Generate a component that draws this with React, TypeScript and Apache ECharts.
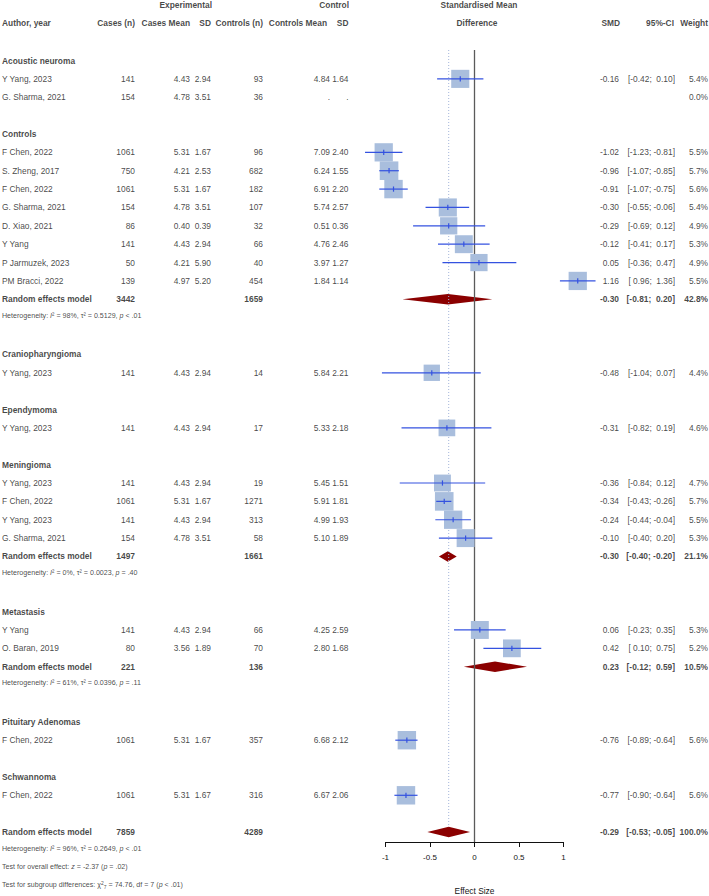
import React, { useEffect, useRef } from "react";
import * as echarts from "echarts";

// ---------- data ----------
const subgroups = [
  "Acoustic neuroma",
  "Controls",
  "Craniopharyngioma",
  "Ependymoma",
  "Meningioma",
  "Metastasis",
  "Pituitary Adenomas",
  "Schwannoma",
];

const studyGroup = [0, 0, 1, 1, 1, 1, 1, 1, 1, 1, 2, 3, 4, 4, 4, 4, 5, 5, 6, 7];
const authors = [
  "Y Yang, 2023", "G. Sharma, 2021",
  "F Chen, 2022", "S. Zheng, 2017", "F Chen, 2022", "G. Sharma, 2021", "D. Xiao, 2021", "Y Yang", "P Jarmuzek, 2023", "PM Bracci, 2022",
  "Y Yang, 2023",
  "Y Yang, 2023",
  "Y Yang, 2023", "F Chen, 2022", "Y Yang, 2023", "G. Sharma, 2021",
  "Y Yang", "O. Baran, 2019",
  "F Chen, 2022",
  "F Chen, 2022",
];
const casesN = [141, 154, 1061, 750, 1061, 154, 86, 141, 50, 139, 141, 141, 141, 1061, 141, 154, 141, 80, 1061, 1061];
const casesMean = [4.43, 4.78, 5.31, 4.21, 5.31, 4.78, 0.40, 4.43, 4.21, 4.97, 4.43, 4.43, 4.43, 5.31, 4.43, 4.78, 4.43, 3.56, 5.31, 5.31];
const casesSD = [2.94, 3.51, 1.67, 2.53, 1.67, 3.51, 0.39, 2.94, 5.90, 5.20, 2.94, 2.94, 2.94, 1.67, 2.94, 3.51, 2.94, 1.89, 1.67, 1.67];
const controlsN = [93, 36, 96, 682, 182, 107, 32, 66, 40, 454, 14, 17, 19, 1271, 313, 58, 66, 70, 357, 316];
const controlsMean: (number | null)[] = [4.84, null, 7.09, 6.24, 6.91, 5.74, 0.51, 4.76, 3.97, 1.84, 5.84, 5.33, 5.45, 5.91, 4.99, 5.10, 4.25, 2.80, 6.68, 6.67];
const controlsSD: (number | null)[] = [1.64, null, 2.40, 1.55, 2.20, 2.57, 0.36, 2.46, 1.27, 1.14, 2.21, 2.18, 1.51, 1.81, 1.93, 1.89, 2.59, 1.68, 2.12, 2.06];
const smd: (number | null)[] = [-0.16, null, -1.02, -0.96, -0.91, -0.30, -0.29, -0.12, 0.05, 1.16, -0.48, -0.31, -0.36, -0.34, -0.24, -0.10, 0.06, 0.42, -0.76, -0.77];
const ciLow: (number | null)[] = [-0.42, null, -1.23, -1.07, -1.07, -0.55, -0.69, -0.41, -0.36, 0.96, -1.04, -0.82, -0.84, -0.43, -0.44, -0.40, -0.23, 0.10, -0.89, -0.90];
const ciHigh: (number | null)[] = [0.10, null, -0.81, -0.85, -0.75, -0.06, 0.12, 0.17, 0.47, 1.36, 0.07, 0.19, 0.12, -0.26, -0.04, 0.20, 0.35, 0.75, -0.64, -0.64];
const weights = [5.4, 0.0, 5.5, 5.7, 5.6, 5.4, 4.9, 5.3, 4.9, 5.5, 4.4, 4.6, 4.7, 5.7, 5.5, 5.3, 5.3, 5.2, 5.6, 5.6];

// pooled random-effects results per subgroup (null where no pooling is shown)
const groupCasesN = [null, 3442, null, null, 1497, 221, null, null];
const groupControlsN = [null, 1659, null, null, 1661, 136, null, null];
const groupSmd = [null, -0.30, null, null, -0.30, 0.23, null, null];
const groupLow = [null, -0.81, null, null, -0.40, -0.12, null, null];
const groupHigh = [null, 0.20, null, null, -0.20, 0.59, null, null];
const groupWeight = [null, 42.8, null, null, 21.1, 10.5, null, null];
const groupI2 = [null, "98%", null, null, "0%", "61%", null, null];
const groupTau2 = [null, "0.5129", null, null, "0.0023", "0.0396", null, null];
const groupP = [null, "< .01", null, null, "= .40", "= .11", null, null];

// overall random-effects model
const overallCasesN = 7859;
const overallControlsN = 4289;
const overallSmd = -0.29;
const overallLow = -0.53;
const overallHigh = -0.05;
const overallWeight = 100.0;
const overallI2 = "96%";
const overallTau2 = "0.2649";
const overallP = "< .01";
const overallZ = "-2.37";
const overallZP = "= .02";
const subgroupChi2 = "74.76";
const subgroupDf = 7;
const subgroupP = "< .01";

const xTicks = { min: -1, max: 1, interval: 0.5 };

const headerTop = ["Experimental", "Control", "Standardised Mean"];
const headerBottom = ["Author, year", "Cases (n)", "Cases Mean", "SD", "Controls (n)", "Controls Mean", "SD", "Difference", "SMD", "95%-CI", "Weight"];

// ---------- layout ----------
const W = 709;
const H = 896;
const ROW_H = 18.37;
const ROW0_Y = 60.5;
const FONT = "'Liberation Sans', Arial, Helvetica, sans-serif";
const TEXT = "#151515";
const FS = 8.4;
const FS_SMALL = 7.1;

const COL = {
  author: 2,
  casesN: 135,
  casesMean: 190,
  casesSD: 211,
  ctrlN: 263,
  ctrlMean: 330,
  ctrlSD: 348.5,
  smd: 619,
  ci: 675,
  weight: 708,
};
const headerTopX = [212, 349, 479];
const headerTopAlign = ["r", "r", "c"];
const headerBottomX = [2, 135, 190, 211, 263, 327, 348.5, 477, 620, 674, 708];
const headerBottomAlign = ["l", "r", "r", "r", "r", "r", "r", "c", "r", "r", "r"];

const PLOT_LEFT = 385.5;
const PLOT_WIDTH = 178;
const PLOT_TOP = 50;
const PLOT_BOTTOM = 842;
const BOX_MAX = 18.6;

type Cell = { x: number; row: number; text: string; align: string; bold?: boolean; size?: number };

const f2 = (v: number) => v.toFixed(2);
const pad = (v: number) => (v < 0 ? f2(v) : " " + f2(v));
const ciText = (lo: number, hi: number) => `[${pad(lo)}; ${pad(hi)}]`;
const hetText = (i2: string, tau2: string, p: string) =>
  `Heterogeneity: {it|I}² = ${i2}, τ² = ${tau2}, {it|p} ${p}`;

function buildLayout() {
  const cells: Cell[] = [];
  const studies: number[][] = [];
  const diamonds: number[][] = [];

  headerTop.forEach((t, i) =>
    cells.push({ x: headerTopX[i], row: -3, text: t, align: headerTopAlign[i], bold: true })
  );
  headerBottom.forEach((t, i) =>
    cells.push({ x: headerBottomX[i], row: -2.06, text: t, align: headerBottomAlign[i], bold: true })
  );

  let r = 0;
  subgroups.forEach((name, g) => {
    cells.push({ x: COL.author, row: r, text: name, align: "l", bold: true });
    r++;
    studyGroup.forEach((sg, i) => {
      if (sg !== g) return;
      cells.push({ x: COL.author, row: r, text: authors[i], align: "l" });
      cells.push({ x: COL.casesN, row: r, text: String(casesN[i]), align: "r" });
      cells.push({ x: COL.casesMean, row: r, text: f2(casesMean[i]), align: "r" });
      cells.push({ x: COL.casesSD, row: r, text: f2(casesSD[i]), align: "r" });
      cells.push({ x: COL.ctrlN, row: r, text: String(controlsN[i]), align: "r" });
      const cm = controlsMean[i];
      const cs = controlsSD[i];
      cells.push({ x: COL.ctrlMean, row: r, text: cm == null ? "." : f2(cm), align: "r" });
      cells.push({ x: COL.ctrlSD, row: r, text: cs == null ? "." : f2(cs), align: "r" });
      const s = smd[i];
      const lo = ciLow[i];
      const hi = ciHigh[i];
      if (s != null && lo != null && hi != null) {
        cells.push({ x: COL.smd, row: r, text: f2(s), align: "r" });
        cells.push({ x: COL.ci, row: r, text: ciText(lo, hi), align: "r" });
        studies.push([s, r, lo, hi, weights[i]]);
      }
      cells.push({ x: COL.weight, row: r, text: weights[i].toFixed(1) + "%", align: "r" });
      r++;
    });
    const gs = groupSmd[g];
    if (gs != null) {
      const lo = groupLow[g] as number;
      const hi = groupHigh[g] as number;
      cells.push({ x: COL.author, row: r, text: "Random effects model", align: "l", bold: true });
      cells.push({ x: COL.casesN, row: r, text: String(groupCasesN[g]), align: "r", bold: true });
      cells.push({ x: COL.ctrlN, row: r, text: String(groupControlsN[g]), align: "r", bold: true });
      cells.push({ x: COL.smd, row: r, text: f2(gs), align: "r", bold: true });
      cells.push({ x: COL.ci, row: r, text: ciText(lo, hi), align: "r", bold: true });
      cells.push({ x: COL.weight, row: r, text: (groupWeight[g] as number).toFixed(1) + "%", align: "r", bold: true });
      diamonds.push([gs, r, lo, hi]);
      r++;
      cells.push({
        x: COL.author, row: r - 0.1, align: "l", size: FS_SMALL,
        text: hetText(groupI2[g] as string, groupTau2[g] as string, groupP[g] as string),
      });
      r++;
    }
    r++;
  });

  const overallRow = r;
  cells.push({ x: COL.author, row: r, text: "Random effects model", align: "l", bold: true });
  cells.push({ x: COL.casesN, row: r, text: String(overallCasesN), align: "r", bold: true });
  cells.push({ x: COL.ctrlN, row: r, text: String(overallControlsN), align: "r", bold: true });
  cells.push({ x: COL.smd, row: r, text: f2(overallSmd), align: "r", bold: true });
  cells.push({ x: COL.ci, row: r, text: ciText(overallLow, overallHigh), align: "r", bold: true });
  cells.push({ x: COL.weight, row: r, text: overallWeight.toFixed(1) + "%", align: "r", bold: true });
  diamonds.push([overallSmd, r, overallLow, overallHigh]);
  r++;
  cells.push({ x: COL.author, row: r - 0.1, align: "l", size: FS_SMALL, text: hetText(overallI2, overallTau2, overallP) });
  r++;
  cells.push({
    x: COL.author, row: r - 0.1, align: "l", size: FS_SMALL,
    text: `Test for overall effect: {it|z} = ${overallZ} ({it|p} ${overallZP})`,
  });
  r++;
  cells.push({
    x: COL.author, row: r - 0.1, align: "l", size: FS_SMALL,
    text: `Test for subgroup differences: χ{sup|2}{sub|${subgroupDf}} = ${subgroupChi2}, df = ${subgroupDf} ({it|p} ${subgroupP})`,
  });

  return { cells, studies, diamonds, overallRow };
}

export default function App() {
  const ref = useRef<HTMLDivElement>(null);

  useEffect(() => {
    if (!ref.current) return;
    const chart = echarts.init(ref.current, undefined, { renderer: "svg" });
    const { cells, studies, diamonds, overallRow } = buildLayout();

    const tableYMin = -ROW0_Y / ROW_H;
    const tableYMax = (H - ROW0_Y) / ROW_H;
    const plotYMin = (PLOT_TOP - ROW0_Y) / ROW_H;
    const plotYMax = (PLOT_BOTTOM - ROW0_Y) / ROW_H;
    const maxW = Math.max(...weights);

    const option: any = {
      animation: false,
      backgroundColor: "#ffffff",
      textStyle: { fontFamily: FONT },
      grid: [
        // table area
        { left: 0, top: 0, width: W, height: H },
        // forest marks
        { left: PLOT_LEFT, top: PLOT_TOP, width: PLOT_WIDTH, height: PLOT_BOTTOM - PLOT_TOP },
        // effect-size axis
        { left: PLOT_LEFT, top: PLOT_BOTTOM - 1, width: PLOT_WIDTH, height: 1 },
      ],
      xAxis: [
        { gridIndex: 0, type: "value", min: 0, max: W, show: false },
        {
          gridIndex: 1,
          type: "value",
          min: xTicks.min,
          max: xTicks.max,
          interval: xTicks.interval,
          show: false,
        },
        {
          gridIndex: 2,
          type: "value",
          position: "bottom",
          min: xTicks.min,
          max: xTicks.max,
          interval: xTicks.interval,
          splitLine: { show: false },
          axisLine: { show: true, onZero: false, lineStyle: { color: "#111", width: 1 } },
          axisTick: { show: true, length: 5, lineStyle: { color: "#111", width: 1 } },
          axisLabel: { color: TEXT, fontSize: 8, fontFamily: FONT, margin: 11 },
          name: "Effect Size",
          nameLocation: "middle",
          nameGap: 45,
          nameTextStyle: { color: TEXT, fontSize: FS, fontFamily: FONT },
        },
      ],
      yAxis: [
        { gridIndex: 0, type: "value", min: tableYMin, max: tableYMax, inverse: true, show: false },
        { gridIndex: 1, type: "value", min: plotYMin, max: plotYMax, inverse: true, show: false },
        { gridIndex: 2, type: "value", min: 0, max: 1, show: false },
      ],
      series: [
        {
          // table text
          type: "scatter",
          xAxisIndex: 0,
          yAxisIndex: 0,
          symbolSize: 0,
          silent: true,
          itemStyle: { color: "rgba(0,0,0,0)" },
          label: {
            show: true,
            color: TEXT,
            fontFamily: FONT,
            fontSize: FS,
            distance: 0,
            formatter: (p: any) => p.data.text,
            rich: {
              it: { fontStyle: "italic", fontSize: FS_SMALL, fontFamily: FONT, color: TEXT },
              sup: { fontSize: 5, fontFamily: FONT, color: TEXT, padding: [0, 0, 4, 0] },
              sub: { fontSize: 5, fontFamily: FONT, color: TEXT, padding: [4, 0, 0, 0] },
            },
          },
          data: cells.map((c) => ({
            value: [c.x, c.row],
            text: c.text,
            label: {
              position: c.align === "r" ? "left" : c.align === "l" ? "right" : "inside",
              align: c.align === "r" ? "right" : c.align === "l" ? "left" : "center",
              fontWeight: c.bold ? "bold" : "normal",
              fontSize: c.size ?? FS,
            },
          })),
          z: 5,
        },
        {
          // no-effect line
          type: "line",
          xAxisIndex: 1,
          yAxisIndex: 1,
          symbol: "none",
          silent: true,
          data: [[0, plotYMin], [0, plotYMax]],
          lineStyle: { color: "#5a5a5a", width: 1.3 },
          z: 2,
        },
        {
          // overall effect reference line
          type: "line",
          xAxisIndex: 1,
          yAxisIndex: 1,
          symbol: "none",
          silent: true,
          data: [[overallSmd, plotYMin], [overallSmd, overallRow - 0.27]],
          lineStyle: { color: "#a4b6da", width: 1, type: [1, 2] },
          z: 2,
        },
        {
          // pooled estimates
          type: "custom",
          xAxisIndex: 1,
          yAxisIndex: 1,
          clip: false,
          silent: true,
          data: diamonds,
          renderItem: (_p: any, api: any) => {
            const y = api.coord([api.value(0), api.value(1)]);
            const l = api.coord([api.value(2), api.value(1)]);
            const h = api.coord([api.value(3), api.value(1)]);
            return {
              type: "polygon",
              shape: {
                points: [
                  [l[0], y[1]],
                  [y[0], y[1] - 5.2],
                  [h[0], y[1]],
                  [y[0], y[1] + 5.2],
                ],
              },
              style: { fill: "#8b0000" },
            };
          },
          z: 1,
        },
        {
          // individual studies: box + confidence interval
          type: "custom",
          xAxisIndex: 1,
          yAxisIndex: 1,
          clip: false,
          silent: true,
          data: studies,
          renderItem: (_p: any, api: any) => {
            const row = api.value(1);
            const c = api.coord([api.value(0), row]);
            const l = api.coord([api.value(2), row]);
            const h = api.coord([api.value(3), row]);
            const side = BOX_MAX * Math.sqrt(api.value(4) / maxW);
            return {
              type: "group",
              children: [
                {
                  type: "rect",
                  shape: { x: c[0] - side / 2, y: c[1] - side / 2, width: side, height: side },
                  style: { fill: "#a9bedd" },
                },
                {
                  type: "line",
                  shape: { x1: l[0], y1: c[1], x2: h[0], y2: c[1] },
                  style: { stroke: "#3452e0", lineWidth: 1.2 },
                },
                {
                  type: "line",
                  shape: { x1: c[0], y1: c[1] - 2.6, x2: c[0], y2: c[1] + 2.6 },
                  style: { stroke: "#3452e0", lineWidth: 1.2 },
                },
              ],
            };
          },
          z: 3,
        },
      ],
    };

    chart.setOption(option);
    return () => chart.dispose();
  }, []);

  return (
    <div
      ref={ref}
      style={{ position: "absolute", left: 0, top: 0, width: W, height: H, background: "#fff" }}
    />
  );
}
